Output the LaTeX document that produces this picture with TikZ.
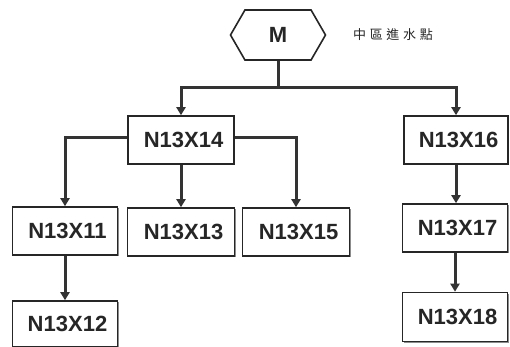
\documentclass[tikz,border=0pt]{standalone}
\usepackage{fontspec}
\setmainfont{Liberation Sans}
\newfontfamily\cjkfont{Noto Sans CJK TC}
\usetikzlibrary{positioning}
\usetikzlibrary{arrows.meta}
\usetikzlibrary{shapes.symbols}
\usetikzlibrary{shadows}

\begin{document}
\begin{tikzpicture}[x=1pt, y=-1pt,
    every node/.style={font=\bfseries\fontsize{22}{24}\selectfont, text=black!85},
    pipebox/.style={draw=black!85, line width=1.6pt, fill=white, inner sep=0pt,
      minimum width=105pt, minimum height=48pt,
      execute at begin node=\hspace*{5pt},
      drop shadow={shadow xshift=1.2pt, shadow yshift=-1.2pt, fill=black!45, opacity=1}},
    inlet/.style={draw=black!85, line width=1.6pt, fill=white, inner sep=0pt,
      shape=signal, signal to=east and west, signal pointer angle=120,
      minimum width=95pt, minimum height=50pt},
    flow/.style={draw=black!80, line width=3pt, -{Triangle[width=9pt, length=8pt]}}]

      % Fix the page to the reference size
      \useasboundingbox (0,0) rectangle (510,347);

      % Inlet node and its label
      \node[inlet] (M) at (278, 35) {M};
      \node[font=\cjkfont\fontsize{13}{15}\selectfont\addfontfeature{LetterSpace=28}] (inletlabel) at (393, 35) {中區進水點};

      % Pipe nodes
      \node[pipebox, minimum width=106pt] (n14) at (181, 140) {N13X14};
      \node[pipebox, minimum width=104pt] (n16) at (456, 140) {N13X16};
      \node[pipebox] (n11) at (65, 231) {N13X11};
      \node[pipebox, minimum width=107pt] (n13) at (181, 232) {N13X13};
      \node[pipebox, minimum width=107pt] (n15) at (296, 232) {N13X15};
      \node[pipebox] (n17) at (455, 228) {N13X17};
      \node[pipebox, minimum height=46pt] (n12) at (65, 324) {N13X12};
      \node[pipebox, minimum height=49pt] (n18) at (455, 317) {N13X18};

      % Split point below the inlet
      \coordinate (split) at (278, 88);
      \draw[draw=black!80, line width=3pt] (M.south) -- (split);
      \draw[flow] (split) -| (n14.north);
      \draw[flow] (split) -| (n16.north);

      % Branches of N13X14
      \draw[flow] ([yshift=2pt]n14.west) -| (n11.north);
      \draw[flow] (n14.south) -- (n13.north);
      \draw[flow] ([yshift=2pt]n14.east) -| (n15.north);
      \draw[flow] (n11.south) -- (n12.north);

      % Branch of N13X16
      \draw[flow] (n16.south) -- (n16.south |- n17.north);
      \draw[flow] (n17.south) -- (n17.south |- n18.north);
    \end{tikzpicture}
\end{document}
